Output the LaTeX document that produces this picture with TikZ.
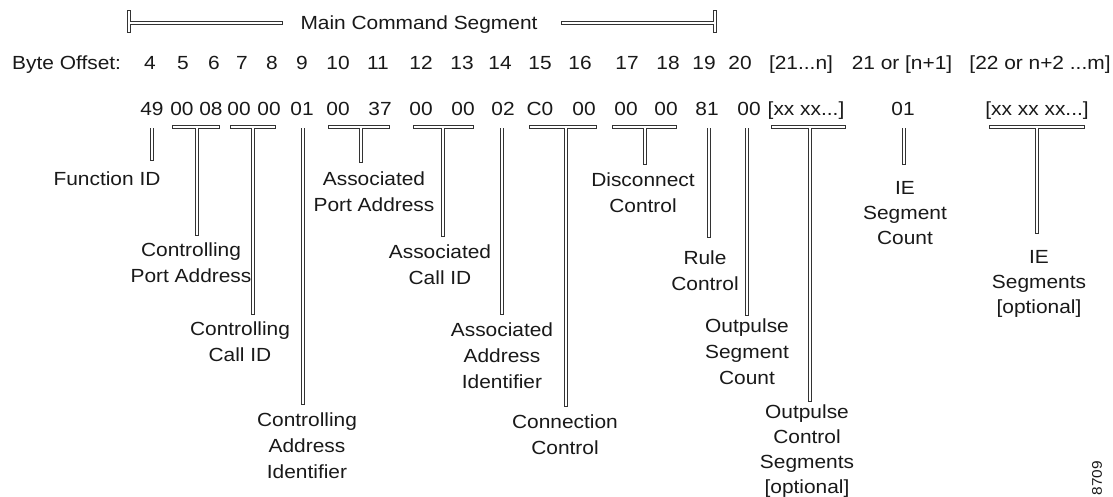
\documentclass[tikz,border=0pt]{standalone}
\usepackage{fontspec}
\setmainfont{Liberation Sans}[FakeStretch=1.1]

% Outlined bars: drawn twice, once solid and once inset in white,
% so that joined pieces merge into one outlined shape.
\newcommand\railV[4]{% x, y top, y bottom, inset
  \fill ({#1-1.9+#4},{#2+#4}) rectangle ({#1+1.9-#4},{#3-#4});}
\newcommand\railH[4]{% x left, x right, y, inset
  \fill ({#1+#4},{#3-1.9+#4}) rectangle ({#2-#4},{#3+1.9-#4});}
\newcommand\railT[5]{% x left, x right, x stem, y bottom, inset
  \railH{#1}{#2}{126.8}{#5}\railV{#3}{126.8}{#4}{#5}}

\newcommand\allrails[1]{%
  % extent of the main command segment
  \railV{129}{10}{33}{#1}\railH{129}{283}{23.3}{#1}
  \railH{561}{715}{23.3}{#1}\railV{715}{10}{33}{#1}
  % field markers under the byte values
  \railV{152}{127.5}{161}{#1}
  \railT{172}{220}{197}{236}{#1}
  \railT{230}{276}{253}{315}{#1}
  \railV{303}{127.5}{405}{#1}
  \railT{328}{390}{361}{163}{#1}
  \railT{413}{474}{443}{237}{#1}
  \railV{502}{127.5}{315}{#1}
  \railT{529}{597}{566}{407}{#1}
  \railT{612}{677}{645}{165}{#1}
  \railV{709}{127.5}{238}{#1}
  \railV{747}{127.5}{316}{#1}
  \railT{771}{846}{810}{402}{#1}
  \railV{904}{127.5}{165}{#1}
  \railT{989}{1085}{1037}{234}{#1}
}

\begin{document}
\begin{tikzpicture}[x=1pt,y=-1pt,
  font=\fontsize{19}{26}\selectfont,
  lbl/.style={anchor=base, align=center, inner sep=0pt, text=black!90}]
\useasboundingbox[fill=white] (0,0) rectangle (1113,496);

\begin{scope}[fill=black!80]\allrails{0}\end{scope}
\begin{scope}[fill=white]\allrails{0.9}\end{scope}

\node[lbl] (title) at (419,29.3) {Main Command Segment};

% byte offsets
\node[lbl, anchor=base west] (hdr) at (12,69.5) {Byte Offset:};
\foreach \n/\x in {4/150,5/183,6/214,7/242,8/272,9/302,10/338,11/378,
                   12/421,13/462,14/500,15/540,16/580,17/627,18/668,
                   19/704,20/740}
  \node[lbl] (b\n) at (\x,69.5) {\n};
\node[lbl] (b21) at (801,69.5) {[21...n]};
\node[lbl] (b21n) at (902,69.5) {21 or [n+1]};
\node[lbl] (b22) at (1040,69.5) {[22 or n+2 ...m]};

% byte values
\foreach \k/\x/\v in {4/152/49,5/182/00,6/211/08,7/239/00,8/269/00,
                      9/302/01,10/338/00,11/380/37,12/421/00,13/463/00,
                      14/503/02,15/540/C0,16/584/00,17/626/00,18/666/00,
                      19/707/81,20/749/00}
  \node[lbl] (h\k) at (\x,115) {\v};
\node[lbl] (hopc) at (806,115) {[xx xx...]};
\node[lbl] (hiec) at (903,115) {01};
\node[lbl] (hies) at (1037,115) {[xx xx xx...]};

% field names (each placed by the baseline of its last line)
\node[lbl] (fid)  at (107,185) {Function ID};
\node[lbl] (cpa)  at (191,282) {Controlling\\Port Address};
\node[lbl] (ccid) at (240,361) {Controlling\\Call ID};
\node[lbl] (cai)  at (307,478) {Controlling\\Address\\Identifier};
\node[lbl] (apa)  at (374,211) {Associated\\Port Address};
\node[lbl] (acid) at (440,284) {Associated\\Call ID};
\node[lbl] (aai)  at (502,388) {Associated\\Address\\Identifier};
\node[lbl] (conn) at (565,454) {Connection\\Control};
\node[lbl] (disc) at (643,212) {Disconnect\\Control};
\node[lbl] (rule) at (705,290) {Rule\\Control};
\node[lbl] (osc)  at (747,384) {Outpulse\\Segment\\Count};
\node[lbl, font=\fontsize{19}{25}\selectfont] (ocs) at (807,493)
  {Outpulse\\Control\\Segments\\{[optional]}};
\node[lbl, font=\fontsize{19}{25}\selectfont] (iec) at (905,244)
  {IE\\Segment\\Count};
\node[lbl, font=\fontsize{19}{25}\selectfont] (ies) at (1039,313)
  {IE\\Segments\\{[optional]}};

\node[inner sep=0pt, rotate=90, text=black!90,
      font=\fontsize{14}{14}\selectfont] (fig) at (1097,478) {8709};
\end{tikzpicture}
\end{document}
